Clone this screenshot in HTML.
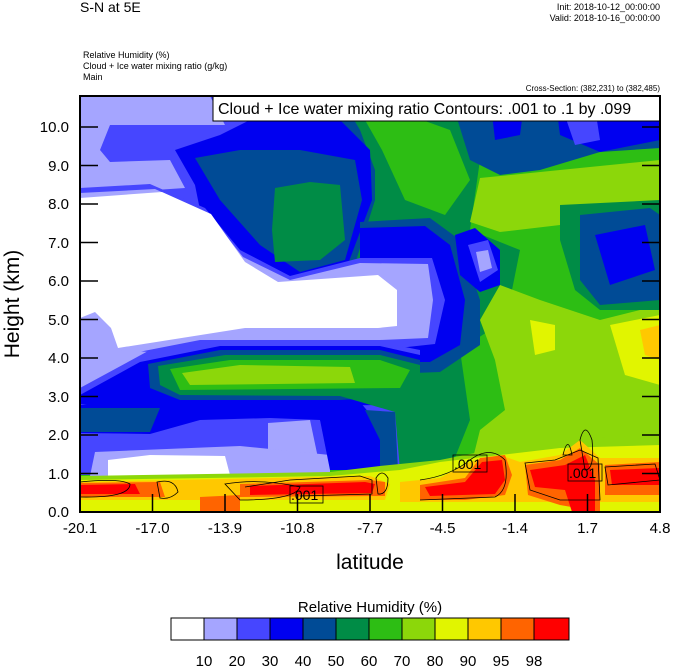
<!DOCTYPE html>
<html><head><meta charset="utf-8"><style>
body{margin:0;background:#fff;}
svg{display:block;font-family:"Liberation Sans",sans-serif;}
</style></head><body>
<svg width="674" height="668" viewBox="0 0 674 668">
<defs><clipPath id="c"><rect x="80" y="96" width="580" height="416"/></clipPath></defs>
<text x="80" y="12" font-size="14">S-N at 5E</text>
<text x="660" y="10" font-size="9" text-anchor="end">Init: 2018-10-12_00:00:00</text>
<text x="660" y="21" font-size="9" text-anchor="end">Valid: 2018-10-16_00:00:00</text>
<text x="83" y="58" font-size="9">Relative Humidity   (%)</text>
<text x="83" y="69" font-size="9">Cloud + Ice water mixing ratio   (g/kg)</text>
<text x="83" y="80" font-size="9">Main</text>
<text x="660" y="91" font-size="8" text-anchor="end">Cross-Section: (382,231) to (382,485)</text>
<g clip-path="url(#c)">
<rect x="80" y="96" width="580" height="416" fill="#2dbe14"/>
<path d="M80 96 H470 L480 160 L470 230 L520 250 L510 300 L490 330 L460 350 L470 420 L450 470 H80Z" fill="#008c46"/>
<path d="M365 120 L400 112 L450 130 L470 180 L445 215 L405 200 L382 150Z" fill="#2dbe14"/>
<path d="M480 178 L560 170 L660 160 V205 L600 212 L560 225 L500 232 L470 222Z" fill="#8cd70a"/>
<path d="M500 285 L540 300 L600 320 L660 305 V470 H470 L480 430 L505 410 L495 360 L480 320Z" fill="#8cd70a"/>
<path d="M530 320 L555 325 L555 350 L535 355Z" fill="#e1f500"/>
<path d="M610 325 L660 315 L660 385 L625 375 Z" fill="#e1f500"/>
<path d="M640 330 L660 325 L660 360 L645 355Z" fill="#ffc800"/>
<path d="M560 205 L660 200 L660 310 L600 310 L575 290 L560 240Z" fill="#008c46"/>
<path d="M580 215 L650 208 L660 215 L660 300 L600 305 L580 280Z" fill="#004b96"/>
<path d="M595 235 L645 225 L655 270 L610 285Z" fill="#0000f0"/>
<path d="M450 96 H660 V148 L600 152 L540 170 L500 175 L470 160Z" fill="#004b96"/>
<path d="M490 96 L525 96 L520 135 L495 140Z" fill="#0000f0"/>
<path d="M555 96 L660 96 L660 140 L600 152 L560 135Z" fill="#0000f0"/>
<path d="M563 110 L595 108 L600 140 L575 145Z" fill="#4646ff"/>
<path d="M80 96 H340 L360 130 L375 170 L375 200 L350 280 L300 290 L80 290Z" fill="#004b96"/>
<path d="M80 96 H320 L340 120 L370 150 L372 200 L345 272 L300 285 L240 260 L200 220 L150 195 L80 200Z" fill="#0000f0"/>
<path d="M80 96 H240 L260 115 L220 135 L175 150 L195 185 L200 210 L80 205Z" fill="#4646ff"/>
<path d="M80 96 H210 L225 125 L170 125 L110 125 L100 150 L110 162 L170 160 L185 188 L80 195Z" fill="#a5a5ff"/>
<path d="M195 158 L240 150 L300 150 L355 160 L362 200 L345 260 L300 272 L260 245 L220 200Z" fill="#004b96"/>
<path d="M275 188 L310 182 L340 185 L345 240 L320 260 L275 262 L272 230Z" fill="#008c46"/>
<path d="M360 222 L430 218 L460 240 L480 300 L480 345 L440 372 L360 375Z" fill="#004b96"/>
<path d="M360 228 L425 226 L450 245 L465 300 L460 345 L430 362 L360 362Z" fill="#0000f0"/>
<path d="M455 235 L475 228 L500 250 L500 285 L480 292 L460 275Z" fill="#0000f0"/>
<path d="M468 245 L488 240 L498 270 L480 282Z" fill="#4646ff"/>
<path d="M476 252 L488 250 L492 268 L480 272Z" fill="#a5a5ff"/>
<path d="M80 188 L150 184 L205 208 L240 250 L290 276 L360 258 L432 258 L445 300 L435 344 L380 350 L200 348 L120 362 L80 350Z" fill="#4646ff"/>
<path d="M80 193 L155 189 L208 213 L243 257 L290 280 L360 263 L428 264 L433 300 L428 338 L380 340 L200 340 L118 356 L80 345Z" fill="#a5a5ff"/>
<path d="M80 198 L162 192 L211 214 L245 262 L278 282 L378 275 L397 290 L397 326 L378 328 L245 328 L118 348 L111 328 L95 312 L80 318Z" fill="#ffffff"/>
<path d="M80 320 L95 313 L111 330 L118 350 L150 352 L145 382 L80 388Z" fill="#a5a5ff"/>
<path d="M80 388 L150 350 L260 342 L380 342 L420 350 L420 470 L80 470Z" fill="#4646ff"/>
<path d="M140 362 L220 346 L380 346 L420 355 L420 400 L380 405 L140 408 L80 404 L80 395Z" fill="#0000f0"/>
<path d="M148 364 L220 350 L380 350 L420 360 L420 395 L340 400 L180 400 L150 388Z" fill="#004b96"/>
<path d="M158 366 L225 355 L380 355 L420 365 L420 470 L400 470 L395 412 L340 396 L180 395 L160 385Z" fill="#008c46"/>
<path d="M170 369 L230 360 L380 360 L410 370 L400 388 L180 390Z" fill="#2dbe14"/>
<path d="M182 373 L240 365 L350 367 L355 383 L190 385Z" fill="#8cd70a"/>
<path d="M80 405 L140 400 L360 402 L375 420 L360 440 L80 440Z" fill="#0000f0"/>
<path d="M80 408 L160 408 L150 432 L80 432Z" fill="#004b96"/>
<path d="M80 433 L150 434 L200 420 L270 418 L320 420 L330 445 L330 475 L80 475Z" fill="#4646ff"/>
<path d="M268 423 L310 420 L318 458 L268 458Z" fill="#a5a5ff"/>
<path d="M95 452 L240 446 L330 455 L330 476 L90 476Z" fill="#a5a5ff"/>
<path d="M108 460 L150 455 L225 456 L230 475 L108 476Z" fill="#ffffff"/>
<path d="M320 420 L375 418 L395 440 L390 470 L330 470Z" fill="#0000f0"/>
<path d="M365 410 L395 412 L398 470 L380 470 L380 440Z" fill="#004b96"/>
<path d="M80 476 L330 472 L380 466 L440 460 L500 448 L560 440 L660 435 L660 512 L80 512Z" fill="#8cd70a"/>
<path d="M80 480 L330 476 L400 470 L440 462 L500 455 L560 448 L660 445 L660 512 L80 512Z" fill="#e1f500"/>
<path d="M80 482 L370 476 L390 484 L385 500 L80 500Z" fill="#ffc800"/>
<path d="M400 482 L440 478 L470 462 L500 455 L520 462 L560 455 L580 440 L600 458 L660 458 L660 502 L400 502Z" fill="#ffc800"/>
<path d="M80 483 L160 482 L165 497 L80 497Z" fill="#ff6400"/>
<path d="M80 485 L135 484 L140 494 L80 494Z" fill="#ff0000"/>
<path d="M200 497 L240 495 L240 512 L200 512Z" fill="#ff6400"/>
<path d="M240 484 L370 480 L385 482 L385 496 L240 497Z" fill="#ff6400"/>
<path d="M250 486 L365 482 L375 484 L372 493 L250 495Z" fill="#ff0000"/>
<path d="M420 485 L465 478 L480 458 L505 455 L512 475 L505 495 L465 500 L420 500Z" fill="#ff6400"/>
<path d="M425 487 L465 482 L482 462 L502 460 L505 480 L495 494 L430 496Z" fill="#ff0000"/>
<path d="M525 465 L560 460 L580 448 L600 465 L600 512 L560 505 L528 495Z" fill="#ff6400"/>
<path d="M530 470 L565 465 L585 455 L595 480 L595 512 L572 512 L565 490 L535 487Z" fill="#ff0000"/>
<path d="M605 465 L660 462 L660 495 L605 495Z" fill="#ff6400"/>
<path d="M610 470 L660 468 L660 485 L612 485Z" fill="#ff0000"/>
<g fill="none" stroke="#000" stroke-width="0.8">
<path d="M80 482 Q120 478 130 484 Q130 498 80 497"/>
<path d="M157 482 Q175 478 178 492 Q170 500 160 498Z"/>
<path d="M225 484 Q260 478 300 487 Q295 500 240 500Z"/>
<path d="M245 487 L290 480 L360 476 L372 480 L372 494 L300 496"/>
<path d="M376 478 Q382 468 388 478 Q388 495 378 494Z"/>
<path d="M420 480 Q450 476 470 460 Q490 445 505 460 Q510 490 495 497 L420 500"/>
<path d="M525 463 L555 460 L580 450 L598 458 L600 500 L560 500 L530 490Z"/>
<path d="M605 467 L655 464 L660 480 L608 485Z"/>
<path d="M580 440 Q585 420 592 440 Q595 470 585 470Z"/>
<path d="M563 455 Q568 434 572 455Z"/>
</g>
<g stroke="#000" stroke-width="0.8" fill="none">
<rect x="290" y="486" width="33" height="17"/>
<rect x="453" y="455" width="34" height="17"/>
<rect x="568" y="464" width="34" height="17"/>
</g>
<g font-size="14">
<text x="291" y="500">.001</text>
<text x="454" y="469">.001</text>
<text x="569" y="478">.001</text>
</g>
</g>
<rect x="213" y="96" width="447" height="25" fill="#fff" stroke="#000" stroke-width="1"/>
<text x="218" y="114" font-size="16">Cloud + Ice water mixing ratio Contours: .001 to .1 by .099</text>
<rect x="80" y="96" width="580" height="416" fill="none" stroke="#000" stroke-width="2"/>
<g stroke="#000" stroke-width="1.5">
<path d="M80 512h18M80 473.5h18M80 435h18M80 396.5h18M80 358h18M80 319.5h18M80 281h18M80 242.5h18M80 204h18M80 165.5h18M80 127h18"/>
<path d="M660 512h-18M660 473.5h-18M660 435h-18M660 396.5h-18M660 358h-18M660 319.5h-18M660 281h-18M660 242.5h-18M660 204h-18M660 165.5h-18M660 127h-18"/>
<path d="M152.5 512v-18M225 512v-18M297.5 512v-18M370 512v-18M442.5 512v-18M515 512v-18M587.5 512v-18"/>
</g>
<g font-size="15" text-anchor="end">
<text x="69" y="517">0.0</text><text x="69" y="479">1.0</text><text x="69" y="440">2.0</text><text x="69" y="402">3.0</text><text x="69" y="363">4.0</text><text x="69" y="325">5.0</text><text x="69" y="286">6.0</text><text x="69" y="248">7.0</text><text x="69" y="209">8.0</text><text x="69" y="171">9.0</text><text x="69" y="132">10.0</text>
</g>
<g font-size="15" text-anchor="middle">
<text x="80" y="533">-20.1</text><text x="152.5" y="533">-17.0</text><text x="225" y="533">-13.9</text><text x="297.5" y="533">-10.8</text><text x="370" y="533">-7.7</text><text x="442.5" y="533">-4.5</text><text x="515" y="533">-1.4</text><text x="587.5" y="533">1.7</text><text x="660" y="533">4.8</text>
</g>
<text x="370" y="569" font-size="21" text-anchor="middle">latitude</text>
<text transform="translate(19,304) rotate(-90)" font-size="21" text-anchor="middle">Height (km)</text>
<text x="370" y="612" font-size="15" text-anchor="middle">Relative Humidity  (%)</text>
<g stroke="#000" stroke-width="1">
<rect x="171" y="618" width="33" height="22" fill="#ffffff"/>
<rect x="204" y="618" width="33" height="22" fill="#a5a5ff"/>
<rect x="237" y="618" width="33" height="22" fill="#4646ff"/>
<rect x="270" y="618" width="33" height="22" fill="#0000f0"/>
<rect x="303" y="618" width="33" height="22" fill="#004b96"/>
<rect x="336" y="618" width="33" height="22" fill="#008c46"/>
<rect x="369" y="618" width="33" height="22" fill="#2dbe14"/>
<rect x="402" y="618" width="33" height="22" fill="#8cd70a"/>
<rect x="435" y="618" width="33" height="22" fill="#e1f500"/>
<rect x="468" y="618" width="33" height="22" fill="#ffc800"/>
<rect x="501" y="618" width="33" height="22" fill="#ff6400"/>
<rect x="534" y="618" width="35" height="22" fill="#ff0000"/>
</g>
<g font-size="15" text-anchor="middle">
<text x="204" y="666">10</text><text x="237" y="666">20</text><text x="270" y="666">30</text><text x="303" y="666">40</text><text x="336" y="666">50</text><text x="369" y="666">60</text><text x="402" y="666">70</text><text x="435" y="666">80</text><text x="468" y="666">90</text><text x="501" y="666">95</text><text x="534" y="666">98</text>
</g>
</svg>
</body></html>
